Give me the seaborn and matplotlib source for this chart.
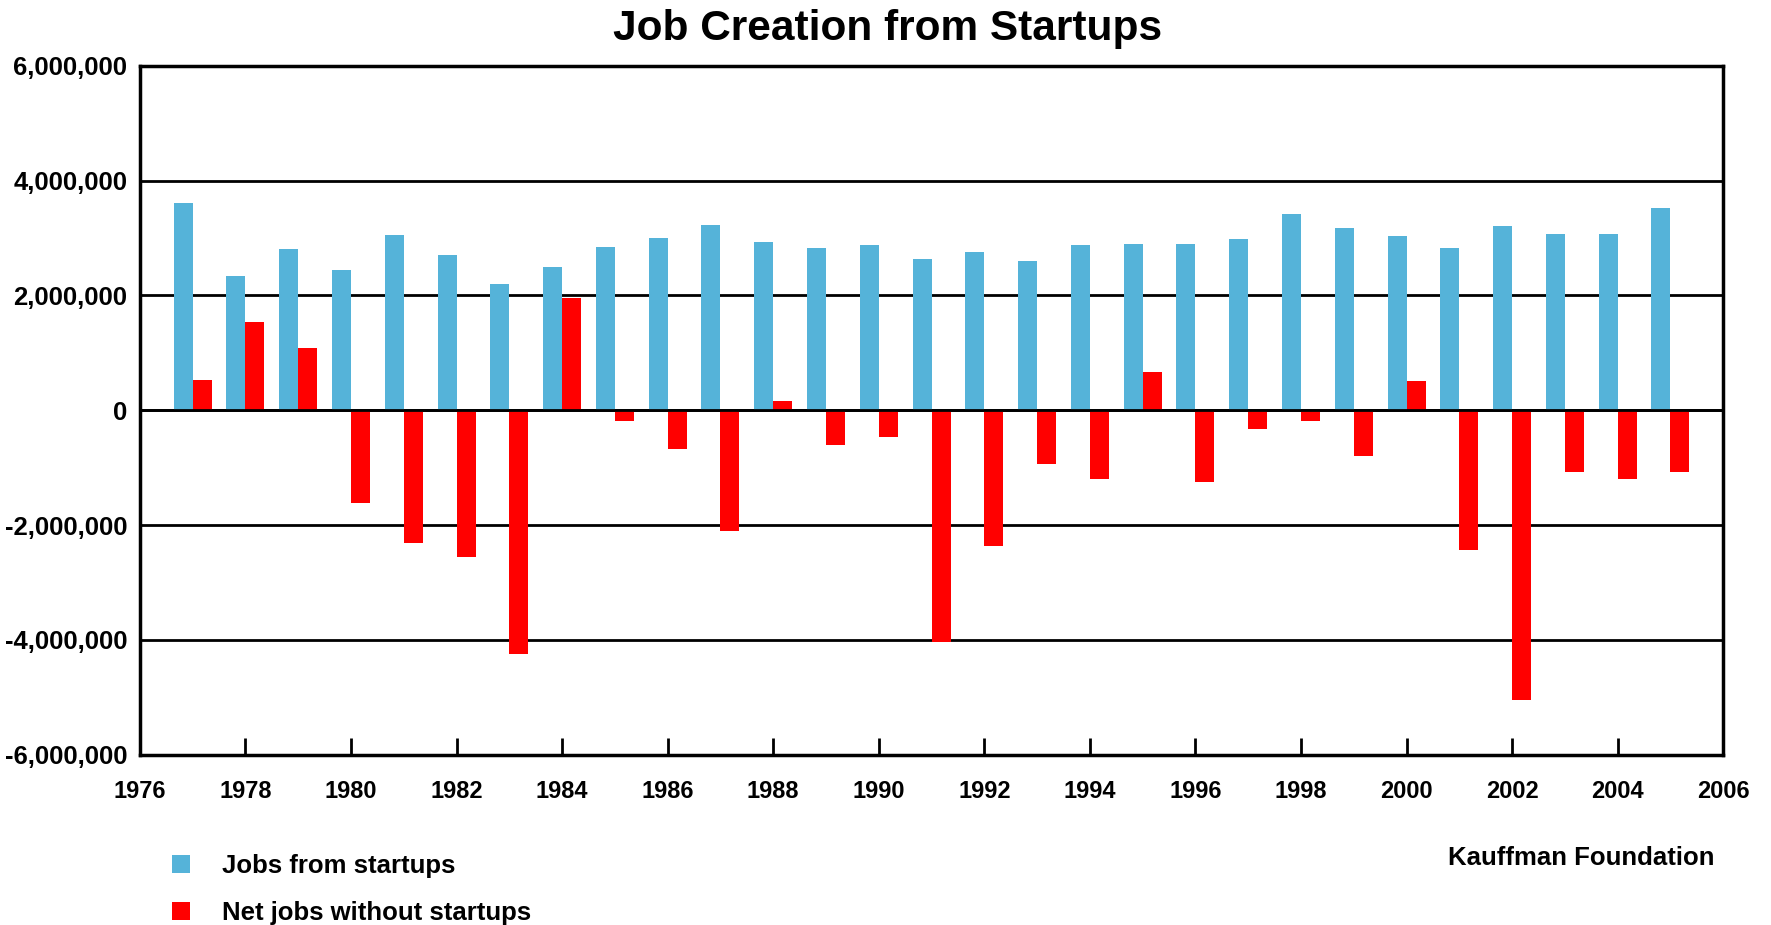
import matplotlib
matplotlib.use("Agg")
import matplotlib.pyplot as plt
import matplotlib.ticker as mticker
import seaborn as sns
import pandas as pd

# ---- data ----
years = list(range(1977, 2006))
jobs_from_startups = [3610000, 2340000, 2800000, 2450000, 3060000, 2700000, 2200000, 2500000,
                      2850000, 3000000, 3220000, 2930000, 2830000, 2870000, 2630000, 2750000,
                      2600000, 2870000, 2890000, 2890000, 2990000, 3410000, 3180000, 3030000,
                      2830000, 3200000, 3070000, 3070000, 3530000]
net_jobs_without_startups = [520000, 1530000, 1090000, -1620000, -2310000, -2560000, -4250000, 1950000,
                             -180000, -670000, -2110000, 160000, -610000, -470000, -4030000, -2370000,
                             -940000, -1190000, 670000, -1250000, -320000, -180000, -800000, 510000,
                             -2430000, -5040000, -1080000, -1190000, -1080000]
series_labels = ["Jobs from startups", "Net jobs without startups"]
x_ticks = list(range(1976, 2007, 2))
y_ticks = [-6000000, -4000000, -2000000, 0, 2000000, 4000000, 6000000]
y_tick_labels = ["-6,000,000", "-4,000,000", "-2,000,000", "0", "2,000,000", "4,000,000", "6,000,000"]
title = "Job Creation from Startups"
source = "Kauffman Foundation"

df = pd.DataFrame({
    "Year": years * 2,
    "Jobs": jobs_from_startups + net_jobs_without_startups,
    "Series": [series_labels[0]] * len(years) + [series_labels[1]] * len(years),
})

sns.set_theme(style="white")
plt.rcParams["font.family"] = ["Liberation Sans", "DejaVu Sans"]
plt.rcParams["font.weight"] = "bold"
plt.rcParams["text.color"] = "black"
plt.rcParams["xtick.labelcolor"] = "black"
plt.rcParams["ytick.labelcolor"] = "black"

blue = "#55B3D9"
red = "#FF0000"

fig = plt.figure(figsize=(17.71, 9.25), dpi=100)
ax = fig.add_axes([0.079, 0.184, 0.894, 0.745])

sns.barplot(data=df, x="Year", y="Jobs", hue="Series", palette=[blue, red],
            native_scale=True, width=0.72, saturation=1, ax=ax,
            edgecolor="none", linewidth=0, legend=True)

ax.set_xlim(1976, 2006)
ax.set_ylim(-6000000, 6000000)
ax.set_xticks(x_ticks)
ax.set_xticklabels([str(t) for t in x_ticks], fontsize=17, fontweight="bold")
ax.yaxis.set_major_locator(mticker.FixedLocator(y_ticks))
ax.yaxis.set_major_formatter(mticker.FixedFormatter(y_tick_labels))
for lab in ax.get_yticklabels():
    lab.set_fontsize(18.5)
    lab.set_fontweight("bold")
ax.set_xlabel("")
ax.set_ylabel("")

ax.yaxis.grid(True, color="black", linewidth=2)
ax.xaxis.grid(False)
ax.set_axisbelow(True)
ax.axhline(0, color="black", linewidth=2, zorder=3)

for sp in ax.spines.values():
    sp.set_visible(True)
    sp.set_color("black")
    sp.set_linewidth(2.5)

ax.tick_params(axis="x", direction="in", length=12, width=2, color="black",
               bottom=True, top=False, pad=18, labelcolor="black")
ax.tick_params(axis="y", length=0, pad=9, labelcolor="black")

handles, labels = ax.get_legend_handles_labels()
if ax.legend_ is not None:
    ax.legend_.remove()
leg = fig.legend(handles, labels, loc="upper left", bbox_to_anchor=(0.097, 0.077),
                 frameon=False, fontsize=18.5, handlelength=0.7, handleheight=0.7,
                 handletextpad=1.25, labelspacing=0.9, borderpad=0, borderaxespad=0)
for t in leg.get_texts():
    t.set_color("black")

fig.text(0.501, 0.969, title, ha="center", va="center", fontsize=30.5, fontweight="bold", color="black")
fig.text(0.968, 0.072, source, ha="right", va="center", fontsize=18.5, fontweight="bold", color="black")

fig.savefig("out.png", dpi=100)
